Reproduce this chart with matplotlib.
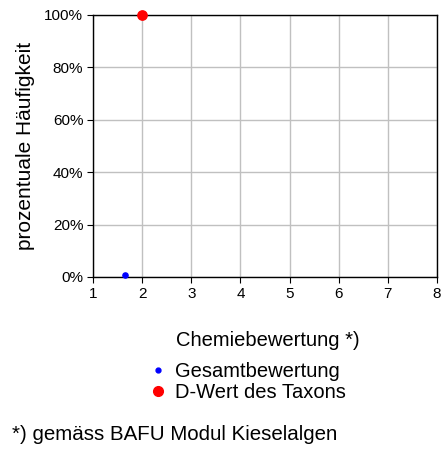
import matplotlib
matplotlib.use("Agg")
import matplotlib.pyplot as plt
from matplotlib.ticker import PercentFormatter
from matplotlib.lines import Line2D

plt.rcParams['font.family'] = ['Liberation Sans', 'DejaVu Sans']

# data
gesamt_x = [1.66]
gesamt_y = [0.8]
dwert_x = [2]
dwert_y = [100]

x_ticks = [1, 2, 3, 4, 5, 6, 7, 8]
y_ticks = [0, 20, 40, 60, 80, 100]

fig = plt.figure(figsize=(4.46, 4.5), dpi=100)
ax = fig.add_axes([93 / 446, 1 - 277 / 450, 344 / 446, 262 / 450])

ax.scatter(gesamt_x, gesamt_y, s=14, color='#0000FF', zorder=3, clip_on=False)
ax.scatter(dwert_x, dwert_y, s=45, color='#FF0000', zorder=3, clip_on=False)

ax.set_xlim(1, 8)
ax.set_ylim(0, 100)
ax.set_xticks(x_ticks)
ax.set_yticks(y_ticks)
ax.yaxis.set_major_formatter(PercentFormatter(decimals=0))
ax.grid(True, color='#C0C0C0', linewidth=1)
ax.set_axisbelow(True)
for sp in ax.spines.values():
    sp.set_color('black')
    sp.set_linewidth(1)
ax.tick_params(labelsize=11, length=4, direction='out', color='black', pad=3)
ax.set_ylabel('prozentuale Häufigkeit', fontsize=15, labelpad=7)

fig.text(268 / 446, 1 - 340 / 450, 'Chemiebewertung *)', fontsize=14.5,
         ha='center', va='center')

handles = [
    Line2D([], [], linestyle='none', marker='o', markersize=3.5, color='#0000FF'),
    Line2D([], [], linestyle='none', marker='o', markersize=7, color='#FF0000'),
]
fig.legend(handles, ['Gesamtbewertung', 'D-Wert des Taxons'],
           loc='center left', bbox_to_anchor=(141 / 446, 1 - 382 / 450),
           frameon=False, fontsize=14.5, handlelength=0.7, handletextpad=0.5,
           labelspacing=0.12, borderpad=0)

fig.text(12 / 446, 1 - 435 / 450, '*) gemäss BAFU Modul Kieselalgen',
         fontsize=14.8, ha='left', va='center')

fig.savefig('out.png', dpi=100)
